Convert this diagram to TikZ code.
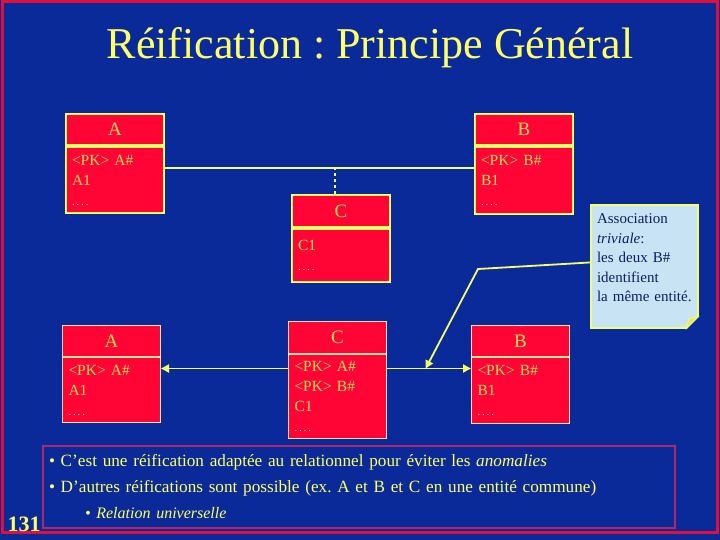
\documentclass[tikz,border=0pt]{standalone}
\usepackage{fontspec}
\setmainfont{Liberation Serif}
\usetikzlibrary{arrows.meta,calc}
\frenchspacing

\definecolor{fond}{HTML}{0B2A9A}
\definecolor{cadre}{HTML}{E0103C}
\definecolor{cadrebas}{HTML}{B02868}
\definecolor{rouge}{HTML}{FF0535}
\definecolor{jaune}{HTML}{F4FF66}
\definecolor{jaunepale}{HTML}{FAE6A0}
\definecolor{titre}{HTML}{FFFF66}
\definecolor{texte}{HTML}{FFE060}
\definecolor{notefond}{HTML}{C8E4F4}
\definecolor{notetexte}{HTML}{101C60}
\definecolor{pli}{HTML}{E8E070}

\newcommand{\pointsuite}{{\color{texte!60!white}\fontsize{11}{20}\selectfont .\,.\,.\,.}}

\begin{document}
\begin{tikzpicture}[x=1pt,y=-1pt,
    tete/.style={draw=jaune, line width=2pt, fill=rouge, text=texte,
        font=\fontsize{19}{20}\selectfont, minimum width=98pt,
        minimum height=31pt, inner sep=0pt, anchor=north west},
    corps/.style={draw=jaune, line width=2pt, fill=rouge, text=texte,
        font=\fontsize{15.5}{20}\selectfont, text width=86pt, inner xsep=6pt,
        inner ysep=2pt, align=left, anchor=north west},
    fin/.style={draw=jaunepale, line width=1pt},
    lien/.style={draw=jaune, line width=1.8pt},
    fleche/.style={lien, -{Triangle[length=8pt,width=8pt]}}]
    % fond et cadre
    \fill[fond] (0,0) rectangle (720,540);
    \draw[cadre, line width=3pt] (2,2) rectangle (717,532);
    \useasboundingbox (0,0) rectangle (720,540);

    % titre
    \node[text=titre, font=\fontsize{44}{48}\selectfont] (titre) at (370,48)
        {Réification : Principe Général};

    % association avec classe C
    \node[tete] (At) at (65,113) {A};
    \node[corps, minimum height=66pt] (Ac) at (At.south west)
        {<PK> A\#\\A1\\\pointsuite};
    \node[tete] (Bt) at (474,113) {B};
    \node[corps, minimum height=67pt] (Bc) at (Bt.south west)
        {<PK> B\#\\B1\\\pointsuite};
    \node[tete, minimum height=32pt] (Ct) at (291,194) {C};
    \node[corps, minimum height=53pt] (Cc) at (Ct.south west)
        {C1\\\pointsuite};

    \draw[lien] ([yshift=12pt]Ac.east) coordinate (p) -- (p -| Bc.west);
    \draw[lien, dashed] ([xshift=-6pt]Ct.north) -- ([xshift=-6pt]Ct.north |- p);

    % reification en tables
    \node[tete, fin] (At2) at (62,325) {A};
    \node[corps, fin, minimum height=65pt] (Ac2) at (At2.south west)
        {<PK> A\#\\A1\\\pointsuite};
    \node[tete, fin, minimum height=32pt] (Ct2) at (288,321) {C};
    \node[corps, fin, minimum height=84pt] (Cc2) at (Ct2.south west)
        {<PK> A\#\\<PK> B\#\\C1\\\pointsuite};
    \node[tete, fin] (Bt2) at (471,325) {B};
    \node[corps, fin, minimum height=66pt] (Bc2) at (Bt2.south west)
        {<PK> B\#\\B1\\\pointsuite};

    \draw[fleche] ([yshift=28pt]Cc2.west) coordinate (g) -- (g -| Ac2.east);
    \draw[fleche] ([yshift=28pt]Cc2.east) coordinate (d) -- (d -| Bc2.west);

    % note
    \node[fill=notefond, draw=jaune, line width=2pt, text=notetexte,
        font=\fontsize{15}{19.5}\selectfont, align=left, text width=95pt,
        inner xsep=6pt, inner ysep=9pt, anchor=north west] (note) at (590,204)
        {Association\\\textit{triviale}:\\les deux B\#\\identifient\\la même entité.\rule[-17pt]{0pt}{17pt}};
    \fill[fond] ([shift={(1.5,1.5)}]note.south east) -- ++(-15,0) -- ++(15,-15) -- cycle;
    \filldraw[draw=jaune, fill=pli, line width=1pt, line join=round]
        ([xshift=-13pt]note.south east) -- ([yshift=13pt]note.south east)
        -- ([shift={(-10,-10)}]note.south east) -- cycle;
    \coordinate (coude) at (478,269);
    \coordinate (cible) at ($(d)!0.46!(d -| Bc2.west)$);
    \draw[fleche] ([yshift=4pt]note.west) -- (coude) -- (cible);

    % commentaire
    \node[draw=cadrebas, line width=2pt, text=titre, font=\fontsize{17.2}{26}\selectfont,
        align=left, text width=620pt, inner xsep=6pt, minimum height=82pt,
        anchor=north west] (bilan) at (42,445)
        {• C’est une réification adaptée au relationnel pour éviter les \textit{anomalies}\\
         • D’autres réifications sont possible (ex. A et B et C en une entité commune)\\
         \hspace*{36pt}{\fontsize{16}{26}\selectfont\itshape • Relation universelle}};

    \node[text=titre, font=\fontsize{22}{24}\selectfont\bfseries, anchor=base west]
        (num) at (4,531) {131};
\end{tikzpicture}
\end{document}
